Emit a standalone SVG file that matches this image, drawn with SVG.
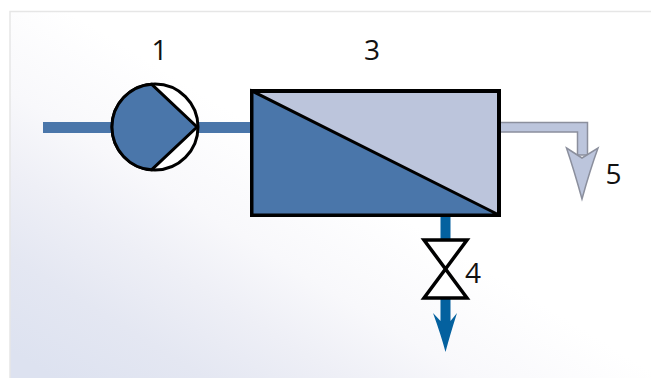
<svg xmlns="http://www.w3.org/2000/svg" width="651" height="378" viewBox="0 0 651 378">
<defs>
<linearGradient id="bg" gradientUnits="userSpaceOnUse" x1="90" y1="400" x2="300" y2="60">
<stop offset="0" stop-color="#dde2f0"/>
<stop offset="0.2" stop-color="#e4e7f2"/>
<stop offset="0.38" stop-color="#eeeff6"/>
<stop offset="0.55" stop-color="#f8f8fb"/>
<stop offset="0.8" stop-color="#ffffff"/>
</linearGradient>
</defs>
<style>
.lbl{font-family:"Open Sans","Noto Sans",sans-serif;font-size:28px;fill:#111;text-anchor:middle}
.ol{stroke:#000;stroke-linejoin:miter}
.pipe{fill:#4a76aa}
.out{fill:#bcc5dc;stroke:#8b8f9d;stroke-width:1.500}
</style>
<rect width="651" height="378" fill="#fff"/>
<rect x="10" y="11.500" width="650" height="380" fill="url(#bg)" stroke="#e6e6e6" stroke-width="1.500"/>
<g id="connectors">
<rect class="pipe" x="43" y="122" width="70" height="11"/>
<rect class="pipe" x="197" y="122" width="55" height="11"/>
<rect x="440.500" y="214" width="10" height="28" fill="#04619f"/>
<path d="M440.500 298H450.500V321L457 313Q450 335 445.500 352Q441 335 433 313L440.500 321Z" fill="#04619f"/>
<path class="out" d="M500 122.500H587.500V155H577.500V132H500Z"/>
<path class="out" d="M566.500 148L582 158L598 148Q590 170 582 199Q574 170 566.500 148Z"/>
</g>
<g id="n1">
<circle cx="155" cy="127" r="43" fill="#fff" class="ol" stroke-width="3"/>
<path d="M151.500 84.140A43 43 0 0 0 151.500 169.860L197 127Z" class="ol pipe" stroke-width="3"/>
<text class="lbl" x="159.500" y="60">1</text>
</g>
<g id="n3">
<rect x="252" y="91" width="247" height="124" fill="#bcc5dc" class="ol" stroke-width="4"/>
<path d="M252 91L499 215H252Z" class="ol" fill="#4a76aa" stroke-width="3"/>
<text class="lbl" x="372" y="60">3</text>
</g>
<g id="n4">
<path d="M424 240H467L424 298H467Z" fill="#fff" class="ol" stroke-width="3.500"/>
<text class="lbl" x="473" y="283">4</text>
</g>
<g id="n5">
<text class="lbl" x="613.500" y="184">5</text>
</g>
</svg>
